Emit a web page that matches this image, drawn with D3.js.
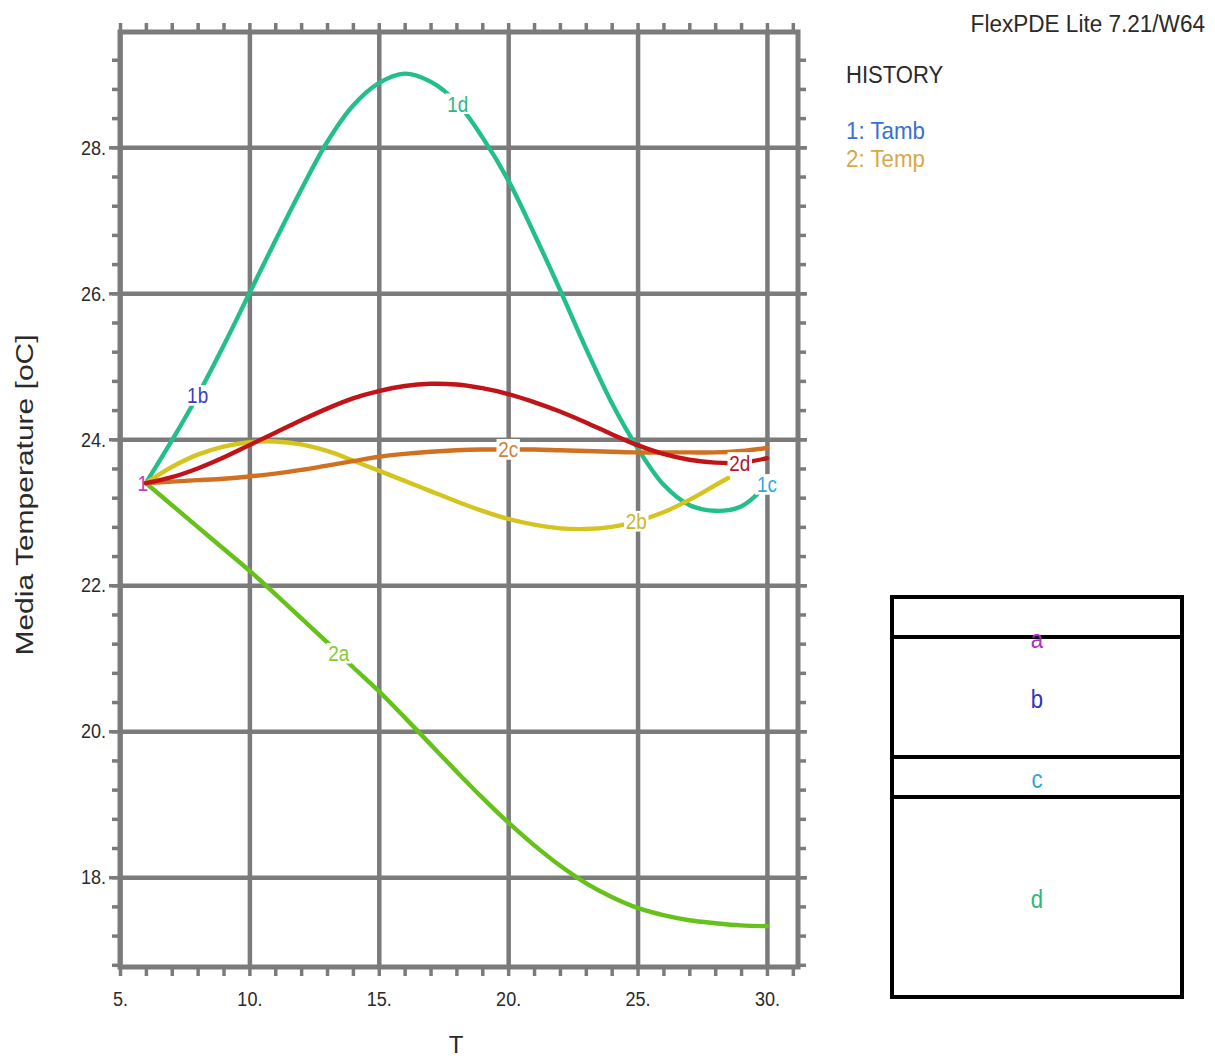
<!DOCTYPE html>
<html>
<head>
<meta charset="utf-8">
<script src="https://cdn.jsdelivr.net/npm/d3@7"></script>
<style>
  body { margin: 0; background: #fff; }
  svg { display: block; }
  text { font-family: "Liberation Sans", Arial, Helvetica, sans-serif; }
</style>
</head>
<body>
<svg id="chart" width="1215" height="1059"></svg>
<script>
// ---- history data (time T, temperatures in oC) ----
const timeT = [6, 7, 8, 9, 10, 11, 12, 13, 14, 15, 16, 17, 18, 19, 20, 21, 22, 23, 24, 25, 26, 27, 28, 29, 30];
const tamb  = [23.4, 23.98, 24.6, 25.28, 26.0, 26.72, 27.42, 28.07, 28.57, 28.88, 29.01, 28.9, 28.62, 28.14, 27.55, 26.82, 26.05, 25.25, 24.5, 23.88, 23.38, 23.1, 23.02, 23.08, 23.38];
const tempA = [23.4, 23.1, 22.8, 22.5, 22.2, 21.88, 21.55, 21.22, 20.88, 20.55, 20.19, 19.82, 19.45, 19.09, 18.75, 18.44, 18.16, 17.92, 17.73, 17.58, 17.48, 17.41, 17.37, 17.34, 17.33];
const timeB = [6, 7, 8, 9, 10, 11, 12, 13, 14, 15, 16, 17, 18, 19, 20, 21, 22, 23, 24, 25, 26, 27, 28, 28.5];
const tempB = [23.4, 23.62, 23.79, 23.9, 23.96, 23.97, 23.93, 23.84, 23.71, 23.57, 23.43, 23.29, 23.15, 23.02, 22.91, 22.83, 22.78, 22.77, 22.8, 22.88, 23.0, 23.17, 23.37, 23.47];
const tempC = [23.4, 23.42, 23.44, 23.46, 23.49, 23.53, 23.58, 23.64, 23.7, 23.76, 23.8, 23.83, 23.85, 23.86, 23.86, 23.86, 23.85, 23.84, 23.83, 23.82, 23.82, 23.82, 23.82, 23.84, 23.88];
const tempD = [23.4, 23.48, 23.6, 23.75, 23.92, 24.09, 24.26, 24.42, 24.56, 24.66, 24.73, 24.76, 24.75, 24.7, 24.62, 24.51, 24.38, 24.23, 24.07, 23.92, 23.8, 23.72, 23.68, 23.68, 23.74];

// ---- axis ticks ----
const xMajor = [5, 10, 15, 20, 25, 30];
const yMajor = [18, 20, 22, 24, 26, 28];

// ---- curve labels: text, series index, time at which it sits ----
const curveLabels = ["1", "1b", "1d", "1c", "2a", "2b", "2c", "2d"];
const labelSeries = [0, 0, 0, 0, 1, 2, 3, 4];
const labelTime   = [5.88, 8.0, 18.05, 30, 13.45, 24.95, 20, 28.95];

// ---- legend ----
const plotTitle = "HISTORY";
const legendNames = ["1: Tamb", "2: Temp"];
const versionTag = "FlexPDE Lite 7.21/W64";

// ---- domain sketch: layer boundaries and monitor points ----
const layerBounds = [0, 1, 4, 5, 10];
const pointNames = ["a", "b", "c", "d"];
const pointDepth = [1.05, 2.55, 4.55, 7.55];

// ---- styling ----
const GRID = "#7b7b7b";
const TXT = "#2a2a2a";
const seriesColors = ["#22bf88", "#66c21a", "#d6c41e", "#d07020", "#c01418"];
const labelColors = ["#c23cc8", "#3c3cc8", "#2ab882", "#30a8e0", "#86c83a", "#c8b830", "#d08040", "#b01830"];
const legendColors = ["#3a70d0", "#d8a848"];
const pointColors = ["#b030c0", "#3030c0", "#30a8d8", "#30b878"];

const series = [
  { t: timeT, v: tamb },
  { t: timeT, v: tempA },
  { t: timeB, v: tempB },
  { t: timeT, v: tempC },
  { t: timeT, v: tempD }
];

const svg = d3.select("#chart");

const L = 120, R = 798, T = 32, B = 967;
const x = d3.scaleLinear().domain([5, 31.2]).range([L, R]);
const y = d3.scaleLinear().domain([16.77, 29.58]).range([B, T]);

const xMinor = d3.range(5, 32).filter(v => v >= x.domain()[0] && v <= x.domain()[1]);
const yMinor = d3.range(42, 74).map(i => +(i * 0.4).toFixed(1)).filter(v => v >= y.domain()[0] && v <= y.domain()[1]);

// grid lines
svg.append("g").attr("transform", `translate(0,${B})`)
  .call(d3.axisBottom(x).tickValues(xMajor).tickSize(-(B - T)).tickFormat(""))
  .call(g => g.select(".domain").remove())
  .selectAll("line").attr("stroke", GRID).attr("stroke-width", 4.5);
svg.append("g").attr("transform", `translate(${L},0)`)
  .call(d3.axisLeft(y).tickValues(yMajor).tickSize(-(R - L)).tickFormat(""))
  .call(g => g.select(".domain").remove())
  .selectAll("line").attr("stroke", GRID).attr("stroke-width", 4.5);

// outward ticks on all four sides
function ticks(axis, tx, ty, vals, size) {
  const g = svg.append("g").attr("transform", `translate(${tx},${ty})`)
    .call(axis.tickValues(vals).tickSize(size).tickSizeOuter(0).tickFormat(""));
  g.select(".domain").remove();
  g.selectAll("line").attr("stroke", GRID).attr("stroke-width", 3.5);
  return g;
}
ticks(d3.axisBottom(x), 0, B, xMinor, 9);
ticks(d3.axisTop(x), 0, T, xMinor, 9);
ticks(d3.axisLeft(y), L, 0, yMinor, 8);
ticks(d3.axisRight(y), R, 0, yMinor, 8);
ticks(d3.axisLeft(y), L, 0, yMajor, 11);
ticks(d3.axisRight(y), R, 0, yMajor, 9);

// frame
svg.append("rect").attr("x", L).attr("y", T).attr("width", R - L).attr("height", B - T)
  .attr("fill", "none").attr("stroke", GRID).attr("stroke-width", 5);

// tick labels
const xl = svg.append("g").attr("transform", `translate(0,${B})`)
  .call(d3.axisBottom(x).tickValues(xMajor).tickSize(0).tickPadding(24).tickFormat(d => d + "."));
xl.select(".domain").remove();
xl.selectAll("text").attr("font-size", 21).attr("fill", TXT)
  .attr("font-family", '"Liberation Sans", Arial, sans-serif')
  .attr("transform", "scale(0.86,1)");
const yl = svg.append("g").attr("transform", `translate(${L},0)`)
  .call(d3.axisLeft(y).tickValues(yMajor).tickSize(0).tickPadding(14).tickFormat(d => d + "."));
yl.select(".domain").remove();
yl.selectAll("text").attr("font-size", 21).attr("fill", TXT)
  .attr("font-family", '"Liberation Sans", Arial, sans-serif')
  .attr("transform", "scale(0.86,1)").attr("x", -14 / 0.86);

// curves
const line = d3.line().x(d => x(d[0])).y(d => y(d[1])).curve(d3.curveCatmullRom.alpha(0.5));
series.forEach((s, i) => {
  svg.append("path")
    .attr("d", line(s.t.map((t, k) => [t, s.v[k]])))
    .attr("fill", "none").attr("stroke", seriesColors[i])
    .attr("stroke-width", 4.4).attr("stroke-linecap", "round").attr("stroke-linejoin", "round");
});

function valueAt(s, t) {
  if (t <= s.t[0]) return s.v[0];
  if (t >= s.t[s.t.length - 1]) return s.v[s.v.length - 1];
  const k = d3.bisectRight(s.t, t) - 1;
  const f = (t - s.t[k]) / (s.t[k + 1] - s.t[k]);
  return s.v[k] + f * (s.v[k + 1] - s.v[k]);
}

// text with optional white backing, horizontally narrowed
function label(parent, px, py, str, size, color, sx, backing) {
  const g = parent.append("g").attr("transform", `translate(${px},${py}) scale(${sx},1)`);
  const r = backing ? g.append("rect").attr("fill", "#fff") : null;
  const t = g.append("text").attr("text-anchor", "middle").attr("dy", "0.36em")
    .attr("font-size", size).attr("fill", color).text(str);
  if (r) {
    const b = t.node().getBBox();
    r.attr("x", b.x - 2).attr("y", b.y + 2).attr("width", b.width + 4).attr("height", b.height - 4);
  }
  return g;
}

const gl = svg.append("g");
curveLabels.forEach((s, i) => {
  const ser = series[labelSeries[i]];
  const t = labelTime[i];
  label(gl, x(t), y(valueAt(ser, t)), s, 22, labelColors[i], 0.86, s !== "1");
});

// axis titles
svg.append("text").attr("transform", "translate(33,495) rotate(-90) scale(1,0.82)")
  .attr("text-anchor", "middle").attr("font-size", 30).attr("fill", TXT)
  .text("Media Temperature [oC]");
svg.append("text").attr("x", 456).attr("y", 1053).attr("text-anchor", "middle")
  .attr("font-size", 24).attr("fill", TXT).text("T");

// header and legend
svg.append("text").attr("transform", "translate(1205,32) scale(0.94,1)")
  .attr("text-anchor", "end").attr("font-size", 24).attr("fill", TXT).text(versionTag);
svg.append("text").attr("transform", "translate(846,83) scale(0.92,1)")
  .attr("font-size", 24).attr("fill", TXT).text(plotTitle);
legendNames.forEach((n, i) => {
  svg.append("text").attr("transform", `translate(846,${139 + i * 28}) scale(0.93,1)`)
    .attr("font-size", 24).attr("fill", legendColors[i]).text(n);
});

// domain sketch
const bx = d3.scaleLinear().domain([0, 1]).range([892, 1182]);
const by = d3.scaleLinear().domain([0, 10]).range([597, 997]);
const gb = svg.append("g");
gb.append("rect").attr("x", bx(0)).attr("y", by(0)).attr("width", bx(1) - bx(0)).attr("height", by(10) - by(0))
  .attr("fill", "none").attr("stroke", "#000").attr("stroke-width", 4);
gb.selectAll("line.layer").data(layerBounds.slice(1, -1)).join("line")
  .attr("x1", bx(0)).attr("x2", bx(1)).attr("y1", d => by(d)).attr("y2", d => by(d))
  .attr("stroke", "#000").attr("stroke-width", 4);
pointNames.forEach((n, i) => {
  label(gb, bx(0.5), by(pointDepth[i]), n, 26, pointColors[i], 0.85, false);
});
</script>
</body>
</html>
